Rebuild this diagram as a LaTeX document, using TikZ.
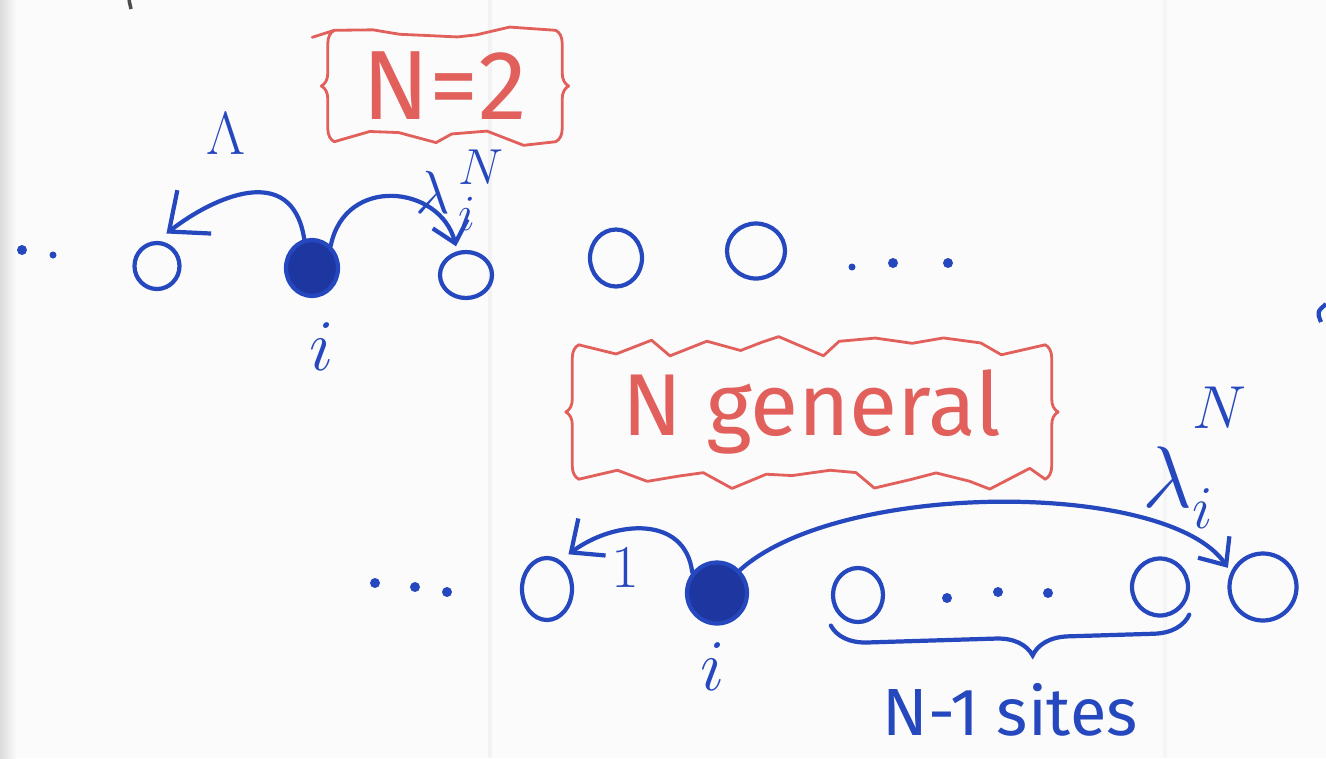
\documentclass[tikz,border=0pt]{standalone}
\usepackage{fontspec}
\setmainfont{Fira Sans}
\usetikzlibrary{shapes.geometric,arrows.meta,decorations.pathmorphing,decorations.pathreplacing}
\definecolor{pen}{RGB}{38,72,190}
\definecolor{penfill}{RGB}{30,55,160}
\definecolor{redpen}{RGB}{226,96,92}
\definecolor{paper}{RGB}{251,251,251}
\tikzset{
  site/.style={ellipse, draw=pen, line width=1.2pt, inner sep=0pt},
  occ/.style={site, fill=penfill},
  hop/.style={draw=pen, line width=1.2pt, line cap=round},
  dotmark/.style={circle, fill=pen, inner sep=0pt, minimum size=1mm},
  redline/.style={draw=redpen, line width=0.8pt, line cap=round, line join=round},
  zig/.style={redline, decorate, decoration={random steps, segment length=3mm, amplitude=1.3mm}},
  sidebrace/.style={redline, decorate, decoration={brace, amplitude=1.3mm}},
  redtxt/.style={text=redpen, inner sep=0pt},
  bluetxt/.style={text=pen, inner sep=0pt}
}
\begin{document}
\begin{tikzpicture}[x=0.1mm, y=-0.1mm]
\pgfmathsetseed{11}
\useasboundingbox (0,0) rectangle (1326,758);
\fill[paper] (0,0) rectangle (1326,758);
\shade[left color=black!14, right color=paper] (0,0) rectangle (16,758);
\draw[black!5, line width=1pt] (490,0) -- (490,758);
\draw[black!4, line width=1pt] (1165,0) -- (1165,758);
\draw[black!70, line width=1pt] (129,0) -- (131,9);
\draw[pen, line width=1.2pt] (1326,304) .. controls (1317,312) .. (1321,322);

% ---------- N = 2 ----------
\node[redtxt, minimum width=22mm, minimum height=11mm, font=\fontsize{28}{30}\selectfont] (n2) at (445,86) {N=2};
\draw[zig] (n2.north west) -- (n2.north east);
\draw[zig] (n2.south west) -- (n2.south east);
\draw[sidebrace] (n2.south west) -- (n2.north west);
\draw[sidebrace] (n2.north east) -- (n2.south east);
\draw[redline] (n2.north west) -- ++(-22,7);

\node[dotmark] (d1) at (22,250) {};
\node[dotmark, minimum size=0.7mm] (d2) at (53,255) {};
\node[site, minimum width=4.5mm, minimum height=4.6mm] (c1) at (157,266) {};
\node[occ, minimum width=5.2mm, minimum height=5.6mm] (f1) at (312,268) {};
\node[site, minimum width=5.2mm, minimum height=4.6mm] (c2) at (466,275) {};
\node[site, minimum width=5.2mm, minimum height=5.7mm] (c3) at (616,258) {};
\node[site, minimum width=5.8mm, minimum height=5.5mm] (c4) at (756,251) {};
\node[dotmark, minimum size=0.7mm] (d3) at (852,267) {};
\node[dotmark] (d4) at (893,263) {};
\node[dotmark] (d5) at (948,263) {};

\draw[hop, -{Straight Barb[length=3.2mm,width=5.5mm]}, shorten >=1.2mm]
  (f1.105) .. controls (292,160) and (212,198) .. (c1.north);
\draw[hop, -{Straight Barb[length=2mm,width=3.6mm]}, shorten >=0.5mm]
  (f1.50) .. controls (345,175) and (440,185) .. (c2.110);

\node[bluetxt, font=\fontsize{19}{20}\selectfont] (lam0) at (226,134) {$\Lambda$};
\node[bluetxt, font=\fontsize{19}{20}\selectfont] (lam1) at (460,190)
  {$\lambda_{\,i}^{\,\raisebox{0.2ex}{$\scriptstyle N$}}$};
\node[bluetxt, font=\fontsize{21}{22}\selectfont] (i1) at (322,347) {$i$};

% ---------- N general ----------
\node[redtxt, minimum width=46.5mm, minimum height=13.3mm, font=\fontsize{25}{28}\selectfont] (ng) at (812,412) {N general};
\draw[zig] (ng.north west) -- (ng.north east);
\draw[zig] (ng.south west) -- (ng.south east);
\draw[sidebrace] (ng.south west) -- (ng.north west);
\draw[sidebrace] (ng.north east) -- (ng.south east);

\node[dotmark] (e1) at (375,583) {};
\node[dotmark] (e2) at (415,587) {};
\node[dotmark] (e3) at (447,592) {};
\node[site, minimum width=5mm, minimum height=6.2mm] (b1) at (547,589) {};
\node[occ, minimum width=6mm, minimum height=6.1mm] (fb) at (717,593) {};
\node[site, minimum width=5mm, minimum height=5.4mm] (b2) at (858,595) {};
\node[dotmark] (e4) at (947,598) {};
\node[dotmark] (e5) at (998,592) {};
\node[dotmark] (e6) at (1048,593) {};
\node[site, minimum width=5.6mm, minimum height=5.7mm] (b3) at (1160,587) {};
\node[site, minimum width=6.7mm, minimum height=6.7mm] (b4) at (1263,587) {};

\draw[hop, -{Straight Barb[length=2.6mm,width=4.6mm]}, shorten >=1mm]
  (fb.140) .. controls (685,515) and (615,520) .. (b1.65);
\draw[hop, -{Straight Barb[length=2.2mm,width=3.8mm]}, shorten >=0.5mm]
  (fb.45) .. controls (840,480) and (1168,480) .. (b4.155);

\node[bluetxt, font=\fontsize{17}{18}\selectfont] (one) at (625,568) {$1$};
\node[bluetxt, font=\fontsize{20}{21}\selectfont] (i2) at (713,667) {$i$};
\node[bluetxt, font=\fontsize{23}{24}\selectfont] (lam2) at (1195,458)
  {$\lambda_i^{\raisebox{1.1ex}{$\scriptstyle N$}}$};

\draw[hop, decorate, decoration={brace, mirror, amplitude=3.6mm, aspect=0.56}]
  ([xshift=-0.8mm,yshift=-1mm]b2.south west) -- ([xshift=0.8mm,yshift=-0.6mm]b3.south east);
\node[bluetxt, font=\fontsize{19}{20}\selectfont] (sites) at (1010,710) {N-1 sites};
\end{tikzpicture}
\end{document}
